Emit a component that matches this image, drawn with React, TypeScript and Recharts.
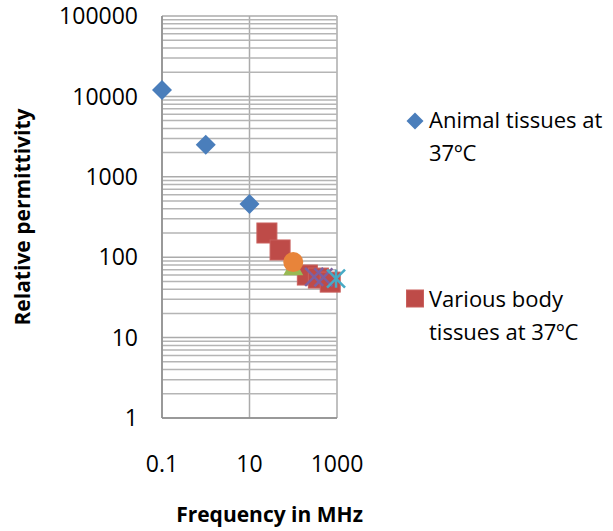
import { ScatterChart, Scatter, XAxis, YAxis, CartesianGrid, Legend, ReferenceLine } from 'recharts';

// frequency in MHz / relative permittivity
const animalFreq = [0.1, 1, 10];
const animalPerm = [12000, 2500, 460];
const bodyFreq = [25, 50, 210, 375, 700];
const bodyPerm = [200, 123, 60, 55, 49];
const triFreq = [100];
const triPerm = [77];
const crossFreq = [300, 490];
const crossPerm = [57, 56];
const starFreq = [950];
const starPerm = [54];
const circleFreq = [100];
const circlePerm = [87];

const xTicks = [0.1, 10, 1000];
const yTicks = [1, 10, 100, 1000, 10000, 100000];
const yGrid = [1, 10, 100, 1000, 10000]
  .flatMap(d => [2, 3, 4, 5, 6, 7, 8, 9].map(m => m * d));

const legendLines: Record<string, string[]> = {
  'Animal tissues at 37ºC': ['Animal tissues at', '37ºC'],
  'Various body tissues at 37ºC': ['Various body', 'tissues at 37ºC'],
};

const toPoints = (xs: number[], ys: number[]) => xs.map((f, i) => ({ f, p: ys[i] }));

const FONT = '"Open Sans", sans-serif';

const Diamond = (props: any) => {
  const { cx, cy } = props;
  return <polygon points={`${cx},${cy - 10} ${cx + 10},${cy} ${cx},${cy + 10} ${cx - 10},${cy}`} fill="#4A7EBB" />;
};
const Square = (props: any) => {
  const { cx, cy } = props;
  return <rect x={cx - 10} y={cy - 10} width={20} height={20} fill="#BE4B48" stroke="#C9605D" strokeWidth={1} />;
};
const Triangle = (props: any) => {
  const { cx, cy } = props;
  return <polygon points={`${cx},${cy - 9} ${cx + 10},${cy + 9} ${cx - 10},${cy + 9}`} fill="#98B954" />;
};
const Cross = (props: any) => {
  const { cx, cy } = props;
  return (
    <g stroke="#7D60A0" strokeWidth={2.5}>
      <line x1={cx - 9} y1={cy - 9} x2={cx + 9} y2={cy + 9} />
      <line x1={cx - 9} y1={cy + 9} x2={cx + 9} y2={cy - 9} />
    </g>
  );
};
const Star = (props: any) => {
  const { cx, cy } = props;
  return (
    <g stroke="#46AAC5" strokeWidth={2.5}>
      <line x1={cx - 9} y1={cy - 9} x2={cx + 9} y2={cy + 9} />
      <line x1={cx - 9} y1={cy + 9} x2={cx + 9} y2={cy - 9} />
      <line x1={cx} y1={cy - 9} x2={cx} y2={cy + 9} />
    </g>
  );
};
const Circle = (props: any) => {
  const { cx, cy } = props;
  return <circle cx={cx} cy={cy} r={10} fill="#E8843A" />;
};

const XTitle = (props: any) => {
  const { viewBox } = props;
  return (
    <text
      x={viewBox.x + viewBox.width / 2 + 20}
      y={viewBox.y + viewBox.height - 9}
      textAnchor="middle"
      fontFamily={FONT}
      fontSize={21}
      fontWeight={700}
      fill="#000"
    >
      Frequency in MHz
    </text>
  );
};

const renderLegend = (props: any) => {
  const items = (props.payload || []).filter((e: any) => e.type !== 'none');
  return (
    <div style={{ fontFamily: FONT, fontSize: 22, color: '#000', width: 209 }}>
      {items.map((e: any, i: number) => {
        const lines = legendLines[e.value] || [e.value];
        return (
          <div key={i} style={{ display: 'flex', marginBottom: i === 0 ? 113 : 0 }}>
            <svg width={22} height={33} style={{ flex: 'none' }}>
              {i === 0 ? (
                <polygon points="11,9.5 19.5,18 11,26.5 2.5,18" fill="#4A7EBB" />
              ) : (
                <rect x={2.5} y={8} width={17} height={17} fill="#BE4B48" stroke="#C9605D" />
              )}
            </svg>
            <div style={{ marginLeft: 3, lineHeight: '33px', whiteSpace: 'nowrap' }}>
              {lines.map((l, j) => (
                <div key={j}>{l}</div>
              ))}
            </div>
          </div>
        );
      })}
    </div>
  );
};

export default function App() {
  return (
    <div style={{ position: 'absolute', left: 0, top: 0, background: '#fff' }}>
      <ScatterChart width={613} height={531} margin={{ top: 16, right: 276, left: 0, bottom: 0 }}>
        <CartesianGrid stroke="#ABABAB" strokeWidth={1.5} />
        {yGrid.map(v => (
          <ReferenceLine key={v} y={v} stroke="#B5B5B5" strokeWidth={1.5} />
        ))}
        <XAxis
          type="number"
          dataKey="f"
          scale="log"
          domain={[0.1, 1000]}
          ticks={xTicks}
          height={113}
          tickLine={false}
          tickMargin={32}
          axisLine={{ stroke: '#8C8C8C', strokeWidth: 1.5 }}
          tick={{ fill: '#000', fontSize: 23, fontFamily: FONT }}
          label={<XTitle />}
        />
        <YAxis
          type="number"
          dataKey="p"
          scale="log"
          domain={[1, 100000]}
          ticks={yTicks}
          width={162}
          tickLine={false}
          tickSize={0}
          tickMargin={24}
          axisLine={{ stroke: '#8C8C8C', strokeWidth: 1.5 }}
          tick={{ fill: '#000', fontSize: 23, fontFamily: FONT }}
          label={{
            value: 'Relative permittivity',
            angle: -90,
            position: 'insideLeft',
            offset: 23,
            style: { textAnchor: 'middle', fontFamily: FONT, fontSize: 21, fontWeight: 700, fill: '#000' },
          }}
        />
        <Legend
          layout="horizontal"
          verticalAlign="middle"
          align="right"
          content={renderLegend}
          wrapperStyle={{ left: 404, top: 103, width: 0, height: 0, overflow: 'visible' }}
        />
        <Scatter name="Animal tissues at 37ºC" data={toPoints(animalFreq, animalPerm)} fill="#4A7EBB" shape={Diamond} legendType="diamond" isAnimationActive={false} />
        <Scatter name="Various body tissues at 37ºC" data={toPoints(bodyFreq, bodyPerm)} fill="#BE4B48" shape={Square} legendType="square" isAnimationActive={false} />
        <Scatter name="Series 3" data={toPoints(triFreq, triPerm)} fill="#98B954" shape={Triangle} legendType="none" isAnimationActive={false} />
        <Scatter name="Series 4" data={toPoints(crossFreq, crossPerm)} fill="#7D60A0" shape={Cross} legendType="none" isAnimationActive={false} />
        <Scatter name="Series 5" data={toPoints(starFreq, starPerm)} fill="#46AAC5" shape={Star} legendType="none" isAnimationActive={false} />
        <Scatter name="Series 6" data={toPoints(circleFreq, circlePerm)} fill="#E8843A" shape={Circle} legendType="none" isAnimationActive={false} />
      </ScatterChart>
    </div>
  );
}
